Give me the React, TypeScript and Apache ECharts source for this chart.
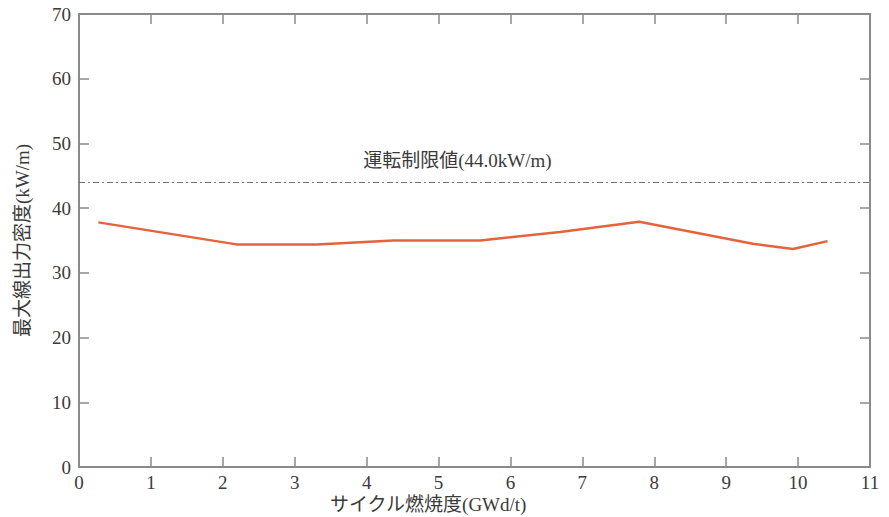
import React, { useEffect, useRef } from "react";
import * as echarts from "echarts";

const burnup = [0.27, 2.19, 3.31, 4.37, 5.58, 6.69, 7.79, 9.37, 9.93, 10.41];
const maxLinearPower = [37.8, 34.4, 34.4, 35.0, 35.0, 36.3, 37.9, 34.5, 33.7, 34.9];
const limitValue = 44.0;
const limitLabel = "運転制限値(44.0kW/m)";
const xName = "サイクル燃焼度(GWd/t)";
const yName = "最大線出力密度(kW/m)";

const FONT = "Liberation Serif, Noto Sans CJK JP, serif";
const AXIS = "#8a8a8a";
const TEXT = "#3a3a3a";

function axisLine() {
  return { show: true, onZero: false, lineStyle: { color: AXIS, width: 2 } };
}
function tick() {
  return { show: true, inside: true, length: 10, lineStyle: { color: AXIS, width: 1.5 } };
}

export default function App() {
  const ref = useRef<HTMLDivElement>(null);
  useEffect(() => {
    if (!ref.current) return;
    const chart = echarts.init(ref.current, undefined, { renderer: "svg" });
    chart.setOption({
      animation: false,
      backgroundColor: "#ffffff",
      grid: { left: 79, right: 19, top: 14, bottom: 50, containLabel: false, outerBoundsMode: "none" },
      xAxis: [
        {
          type: "value",
          min: 0,
          max: 11,
          interval: 1,
          axisLine: axisLine(),
          axisTick: tick(),
          splitLine: { show: false },
          axisLabel: { color: TEXT, fontFamily: FONT, fontSize: 19, margin: 6 },
        },
        {
          type: "value",
          position: "top",
          min: 0,
          max: 11,
          interval: 1,
          axisLine: axisLine(),
          axisTick: tick(),
          splitLine: { show: false },
          axisLabel: { show: false },
        },
      ],
      yAxis: [
        {
          type: "value",
          min: 0,
          max: 70,
          interval: 10,
          name: yName,
          nameLocation: "middle",
          nameGap: 47,
          nameTextStyle: { color: TEXT, fontFamily: FONT, fontSize: 19 },
          axisLine: axisLine(),
          axisTick: tick(),
          splitLine: { show: false },
          axisLabel: { color: TEXT, fontFamily: FONT, fontSize: 19, margin: 8 },
        },
        {
          type: "value",
          position: "right",
          min: 0,
          max: 70,
          interval: 10,
          axisLine: axisLine(),
          axisTick: tick(),
          splitLine: { show: false },
          axisLabel: { show: false },
        },
      ],
      graphic: [
        {
          type: "text",
          left: 330,
          top: 495,
          style: { text: xName, fill: TEXT, fontFamily: FONT, fontSize: 19 },
        },
      ],
      series: [
        {
          type: "line",
          data: burnup.map((x, i) => [x, maxLinearPower[i]]),
          showSymbol: false,
          symbol: "none",
          lineStyle: { color: "#e5633b", width: 2.5 },
          markLine: {
            silent: true,
            symbol: ["none", "none"],
            data: [{ yAxis: limitValue }],
            lineStyle: { color: "#707070", width: 1.2, type: [6, 3, 2, 3] },
            label: {
              show: true,
              position: "insideMiddleTop",
              formatter: limitLabel,
              distance: 12,
              offset: [-17, 0],
              color: TEXT,
              fontFamily: FONT,
              fontSize: 19,
            },
          },
        },
      ],
    });
    return () => chart.dispose();
  }, []);
  return (
    <div
      ref={ref}
      style={{ position: "absolute", left: 0, top: 0, width: 889, height: 517 }}
    />
  );
}
